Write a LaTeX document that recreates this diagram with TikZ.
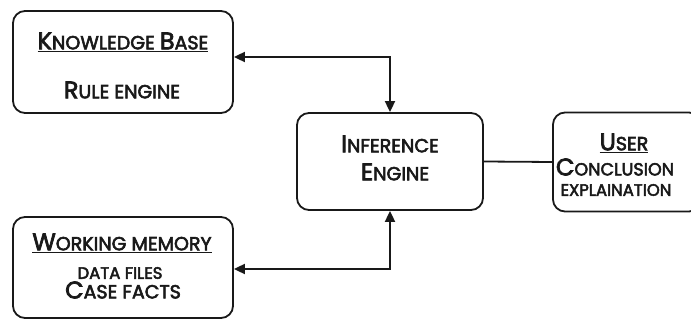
\documentclass[tikz,border=0pt]{standalone}
\usepackage{fontspec}
\setmainfont{Poppins}[FakeBold=3]
\usetikzlibrary{arrows.meta}
\newcommand\Bg[1]{{\fontsize{24}{24}\selectfont #1}}
\newcommand\Sm[1]{{\fontsize{19}{19}\selectfont #1}}
\newcommand\Tn[1]{{\fontsize{16.5}{16.5}\selectfont #1}}
\begin{document}
\begin{tikzpicture}[x=1pt,y=-1pt,
  box/.style={draw=black!90, line width=1.8pt, rounded corners=12pt, inner sep=0pt},
  txt/.style={inner sep=0pt, text=black!90, anchor=center},
  con/.style={draw=black!90, line width=1.8pt},
  >={Triangle[length=11pt,width=10pt]}
]
\useasboundingbox (0,0) rectangle (691,320);
\begin{scope}
\clip (0,0) rectangle (691,320);
\node[box, minimum width=220pt, minimum height=102pt] (kb) at (123,62) {};
\node[box, minimum width=186pt, minimum height=97pt] (ie) at (390,161.5) {};
\node[box, minimum width=148pt, minimum height=99pt] (user) at (627,162) {};
\node[box, minimum width=220pt, minimum height=101pt] (wm) at (123,267.5) {};
\end{scope}
% texts
\node[txt] (kbt) at (123,42) {\underline{\Bg{K}\Sm{NOWLEDGE\ }\Bg{B}\Sm{ASE}}};
\node[txt] (kbs) at (122,90) {\Bg{R}\Sm{ULE ENGINE}};
\node[txt] (iet1) at (390,144) {\Bg{I}\Sm{NFERENCE}};
\node[txt] (iet2) at (395,172) {\Bg{E}\Sm{NGINE}};
\node[txt] (ust) at (624,143) {\underline{\Bg{U}\Sm{SER}}};
\node[txt] (us1) at (615,167) {\Bg{C}{\fontsize{17.5}{17.5}\selectfont ONCLUSION}};
\node[txt] (us2) at (616,190) {\Tn{EXPLAINATION}};
\node[txt] (wmt) at (122,243) {\underline{\Bg{W}\Sm{ORKING MEMORY}}};
\node[txt] (wm1) at (120,273) {\Tn{DATA FILES}};
\node[txt] (wm2) at (123,290) {\Bg{C}\Sm{ASE FACTS}};
% connectors
\draw[con, <->] ([yshift=5pt]kb.east) -| (ie.north);
\draw[con, <->] ([yshift=-1.5pt]wm.east) -| (ie.south);
\draw[con] (ie.east) -- (user.west);
\end{tikzpicture}
\end{document}
